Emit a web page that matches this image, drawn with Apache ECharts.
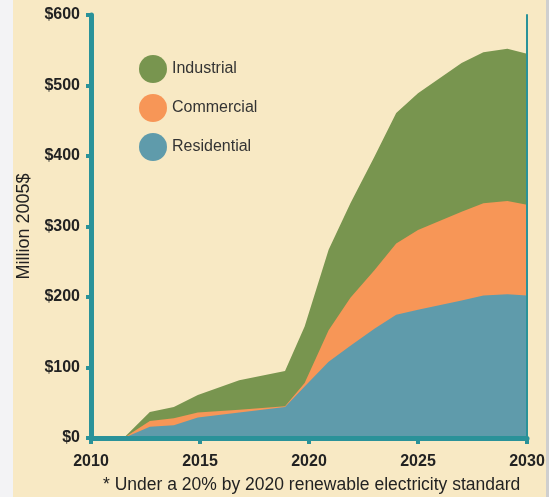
<!DOCTYPE html>
<html>
<head>
<meta charset="utf-8">
<script src="https://cdn.jsdelivr.net/npm/echarts@6/dist/echarts.min.js"></script>
<style>
  html, body { margin: 0; padding: 0; background: #f8e9c4; }
  #chart { width: 549px; height: 497px; }
</style>
</head>
<body>
<div id="chart"></div>
<script>
// values (Million 2005$)
const years = [2011.5, 2012.7, 2013.8, 2014.9, 2016.8, 2018.9, 2019.8, 2020.9, 2021.9, 2023, 2024, 2025, 2027, 2028, 2029.1, 2030];
const residential = [0, 16, 18, 29, 36, 44, 73, 108, 131, 155, 175, 182, 195, 202, 204, 202];
const commercial = [0, 8, 10, 7, 4, 1, 5, 45, 68, 83, 101, 113, 126, 131, 132, 129];
const industrial = [0, 13, 16, 25, 42, 50, 80, 114, 134, 161, 185, 194, 211, 214, 216, 214];
const legendOrder = ["Industrial", "Commercial", "Residential"];
const teal = "#2a9299";
const font = "Liberation Sans";

// echarts can't stack on a value x axis, so sum the layers here
const resTop = residential.slice();
const comTop = residential.map((v, i) => v + commercial[i]);
const indTop = comTop.map((v, i) => v + industrial[i]);

function pairs(vals) {
  return years.map((y, i) => [y, vals[i]]);
}

function area(name, vals, color) {
  return {
    name: name,
    type: "line",
    data: pairs(vals),
    showSymbol: false,
    symbol: "none",
    color: color,
    lineStyle: { width: 0 },
    areaStyle: { color: color, opacity: 1 },
  };
}

const chart = echarts.init(document.getElementById("chart"));
const option = {
  backgroundColor: "#f8e9c4",
  animation: false,
  grid: { left: 91, right: 22, top: 15, bottom: 59 },
  legend: {
    data: legendOrder,
    orient: "vertical",
    left: 139,
    top: 55,
    padding: 0,
    icon: "circle",
    itemWidth: 28,
    itemHeight: 28,
    itemGap: 11,
    textStyle: { fontSize: 16, color: "#333", fontFamily: font },
  },
  xAxis: [
    {
      type: "value",
      min: 2010,
      max: 2030,
      interval: 5,
      z: 5,
      axisLine: { lineStyle: { color: teal, width: 5 } },
      axisTick: { length: 6, lineStyle: { color: teal, width: 4 } },
      axisLabel: {
        margin: 16,
        fontSize: 16,
        fontWeight: "bold",
        color: "#222",
        fontFamily: font,
        formatter: (v) => String(v),
      },
      splitLine: { show: false },
    },
    {
      type: "value",
      position: "top",
      min: 2010,
      max: 2030,
      z: 5,
      axisLine: { lineStyle: { color: teal, width: 2 } },
      axisTick: { show: false },
      axisLabel: { show: false },
      splitLine: { show: false },
    },
  ],
  yAxis: [
    {
      type: "value",
      min: 0,
      max: 600,
      interval: 100,
      z: 5,
      name: "Million 2005$",
      nameLocation: "middle",
      nameGap: 57,
      nameTextStyle: { fontSize: 18, color: "#222", fontFamily: font },
      axisLine: { show: true, lineStyle: { color: teal, width: 5 } },
      axisTick: { show: true, length: 5, lineStyle: { color: teal, width: 4 } },
      axisLabel: {
        margin: 11,
        fontSize: 16,
        fontWeight: "bold",
        color: "#222",
        fontFamily: font,
        formatter: (v) => "$" + v,
      },
      splitLine: { show: false },
    },
    {
      type: "value",
      position: "right",
      min: 0,
      max: 600,
      z: 5,
      axisLine: { show: true, lineStyle: { color: teal, width: 2 } },
      axisTick: { show: false },
      axisLabel: { show: false },
      splitLine: { show: false },
    },
  ],
  // drawn back to front: the total first, residential last
  series: [
    area("Industrial", indTop, "#78954f"),
    area("Commercial", comTop, "#f79657"),
    area("Residential", resTop, "#5f9bab"),
  ],
  graphic: [
    {
      type: "rect",
      shape: { x: 0, y: 0, width: 13, height: 497 },
      style: { fill: "#f3f3f5" },
    },
    {
      type: "rect",
      shape: { x: 546, y: 0, width: 3, height: 497 },
      style: { fill: "#cfcfcf" },
    },
    {
      type: "text",
      left: 103,
      top: 476,
      style: {
        text: "* Under a 20% by 2020 renewable electricity standard",
        fontSize: 17.5,
        fill: "#222",
        fontFamily: font,
      },
    },
  ],
};
chart.setOption(option);
</script>
</body>
</html>
